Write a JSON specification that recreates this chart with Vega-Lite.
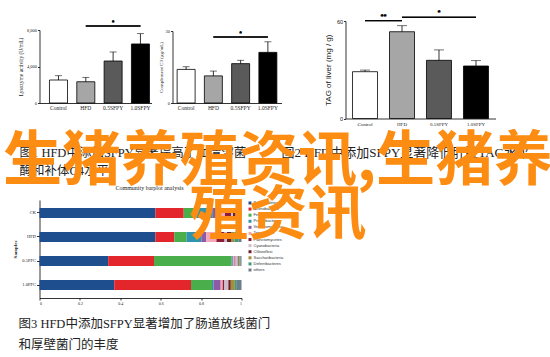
{
  "$schema": "https://vega.github.io/schema/vega-lite/v6.json",
  "padding": {"left": 2.5, "top": 9, "right": 0, "bottom": 0},
  "background": "white",
  "bounds": "flush",
  "align": "none",
  "columns": 5,
  "spacing": 0,
  "datasets": {
    "lys": [
      {"group": "Control", "value": 2520, "upper": 2990},
      {"group": "HFD", "value": 2330, "upper": 2810},
      {"group": "0.5SFPY", "value": 4600, "upper": 5590},
      {"group": "1.0SFPY", "value": 6470, "upper": 7600}
    ],
    "c3": [
      {"group": "Control", "value": 14.0, "upper": 15.1},
      {"group": "HFD", "value": 11.3, "upper": 13.3},
      {"group": "0.5SFPY", "value": 16.4, "upper": 17.8},
      {"group": "1.0SFPY", "value": 21.1, "upper": 25.5}
    ],
    "tag": [
      {"group": "Control", "value": 28.8, "upper": 29.8},
      {"group": "HFD", "value": 53.4, "upper": 57.1},
      {"group": "0.5SFPY", "value": 35.8, "upper": 42.2},
      {"group": "1.0SFPY", "value": 32.3, "upper": 35.6}
    ],
    "phyla": [
      {"phylum": "Bacteroidetes", "ord": 1},
      {"phylum": "Actinobacteria", "ord": 2},
      {"phylum": "Firmicutes", "ord": 3},
      {"phylum": "Proteobacteria", "ord": 4},
      {"phylum": "Verrucomicrobia", "ord": 5},
      {"phylum": "Tenericutes", "ord": 6},
      {"phylum": "Planctomycetes", "ord": 7},
      {"phylum": "Cyanobacteria", "ord": 8},
      {"phylum": "Chloroflexi", "ord": 9},
      {"phylum": "Saccharibacteria", "ord": 10},
      {"phylum": "Deferribacteres", "ord": 11},
      {"phylum": "others", "ord": 12}
    ],
    "comm": [
      {"sample": "CK", "phylum": "Bacteroidetes", "ord": 1, "value": 0.574},
      {"sample": "CK", "phylum": "Actinobacteria", "ord": 2, "value": 0.14},
      {"sample": "CK", "phylum": "Firmicutes", "ord": 3, "value": 0.064},
      {"sample": "CK", "phylum": "Proteobacteria", "ord": 4, "value": 0.08},
      {"sample": "CK", "phylum": "Verrucomicrobia", "ord": 5, "value": 0.02},
      {"sample": "CK", "phylum": "Tenericutes", "ord": 6, "value": 0.04},
      {"sample": "CK", "phylum": "Planctomycetes", "ord": 7, "value": 0.03},
      {"sample": "CK", "phylum": "Cyanobacteria", "ord": 8, "value": 0.01},
      {"sample": "CK", "phylum": "Chloroflexi", "ord": 9, "value": 0.01},
      {"sample": "CK", "phylum": "Saccharibacteria", "ord": 10, "value": 0.01},
      {"sample": "CK", "phylum": "Deferribacteres", "ord": 11, "value": 0.01},
      {"sample": "CK", "phylum": "others", "ord": 12, "value": 0.012},
      {"sample": "HFD", "phylum": "Bacteroidetes", "ord": 1, "value": 0.574},
      {"sample": "HFD", "phylum": "Actinobacteria", "ord": 2, "value": 0.093},
      {"sample": "HFD", "phylum": "Firmicutes", "ord": 3, "value": 0.06},
      {"sample": "HFD", "phylum": "Proteobacteria", "ord": 4, "value": 0.074},
      {"sample": "HFD", "phylum": "Verrucomicrobia", "ord": 5, "value": 0.025},
      {"sample": "HFD", "phylum": "Tenericutes", "ord": 6, "value": 0.05},
      {"sample": "HFD", "phylum": "Planctomycetes", "ord": 7, "value": 0.04},
      {"sample": "HFD", "phylum": "Cyanobacteria", "ord": 8, "value": 0.012},
      {"sample": "HFD", "phylum": "Chloroflexi", "ord": 9, "value": 0.02},
      {"sample": "HFD", "phylum": "Saccharibacteria", "ord": 10, "value": 0.018},
      {"sample": "HFD", "phylum": "Deferribacteres", "ord": 11, "value": 0.02},
      {"sample": "HFD", "phylum": "others", "ord": 12, "value": 0.014},
      {"sample": "0.5PFC", "phylum": "Bacteroidetes", "ord": 1, "value": 0.34},
      {"sample": "0.5PFC", "phylum": "Actinobacteria", "ord": 2, "value": 0.227},
      {"sample": "0.5PFC", "phylum": "Firmicutes", "ord": 3, "value": 0.384},
      {"sample": "0.5PFC", "phylum": "Proteobacteria", "ord": 4, "value": 0.005},
      {"sample": "0.5PFC", "phylum": "Verrucomicrobia", "ord": 5, "value": 0.004},
      {"sample": "0.5PFC", "phylum": "Tenericutes", "ord": 6, "value": 0.006},
      {"sample": "0.5PFC", "phylum": "Planctomycetes", "ord": 7, "value": 0.004},
      {"sample": "0.5PFC", "phylum": "Cyanobacteria", "ord": 8, "value": 0.012},
      {"sample": "0.5PFC", "phylum": "Chloroflexi", "ord": 9, "value": 0.004},
      {"sample": "0.5PFC", "phylum": "Saccharibacteria", "ord": 10, "value": 0.004},
      {"sample": "0.5PFC", "phylum": "Deferribacteres", "ord": 11, "value": 0.004},
      {"sample": "0.5PFC", "phylum": "others", "ord": 12, "value": 0.006},
      {"sample": "1.0PFC", "phylum": "Bacteroidetes", "ord": 1, "value": 0.37},
      {"sample": "1.0PFC", "phylum": "Actinobacteria", "ord": 2, "value": 0.38},
      {"sample": "1.0PFC", "phylum": "Firmicutes", "ord": 3, "value": 0.104},
      {"sample": "1.0PFC", "phylum": "Proteobacteria", "ord": 4, "value": 0.008},
      {"sample": "1.0PFC", "phylum": "Verrucomicrobia", "ord": 5, "value": 0.035},
      {"sample": "1.0PFC", "phylum": "Tenericutes", "ord": 6, "value": 0.01},
      {"sample": "1.0PFC", "phylum": "Planctomycetes", "ord": 7, "value": 0.008},
      {"sample": "1.0PFC", "phylum": "Cyanobacteria", "ord": 8, "value": 0.02},
      {"sample": "1.0PFC", "phylum": "Chloroflexi", "ord": 9, "value": 0.012},
      {"sample": "1.0PFC", "phylum": "Saccharibacteria", "ord": 10, "value": 0.02},
      {"sample": "1.0PFC", "phylum": "Deferribacteres", "ord": 11, "value": 0.01},
      {"sample": "1.0PFC", "phylum": "others", "ord": 12, "value": 0.023}
    ]
  },
  "config": {
    "view": {"stroke": null},
    "axis": {
      "grid": false, "domainColor": "#000", "tickColor": "#000", "labelColor": "#222", "titleColor": "#222",
      "labelFont": "Liberation Serif", "titleFont": "Liberation Serif", "titleFontWeight": "normal",
      "domainWidth": 0.8, "tickWidth": 0.8, "tickSize": 2, "labelPadding": 1, "titlePadding": 3
    }
  },
  "concat": [
    {
      "width": 112, "height": 82,
      "data": {"name": "lys"},
      "title": {"text": ["图1 HFD中添加SFPY显著提高了血清溶菌", "酶和补体C4水平"], "orient": "bottom", "anchor": "start", "frame": "group", "offset": 36, "dx": -20, "fontSize": 12.5, "font": "Liberation Serif, Noto Sans CJK SC", "fontWeight": "normal", "color": "#222", "lineHeight": 18.5},
      "encoding": {
        "x": {"field": "group", "type": "nominal", "sort": null, "scale": {"paddingInner": 0.34, "paddingOuter": 0.22, "align": 0.83}, "axis": {"title": null, "labelAngle": 0, "labelFontSize": 5.5, "ticks": false, "labelPadding": 2}}
      },
      "layer": [
        {"mark": {"type": "bar", "stroke": "#000", "strokeWidth": 0.8},
         "encoding": {
           "y": {"field": "value", "type": "quantitative", "scale": {"domain": [0, 8000], "range": [82, 9]}, "axis": {"title": "Lysozyme activity (U/mL)", "values": [0, 2000, 4000, 6000, 8000], "labelFontSize": 4.5, "titleFontSize": 5.5}},
           "fill": {"field": "group", "type": "nominal", "scale": {"domain": ["Control", "HFD", "0.5SFPY", "1.0SFPY"], "range": ["#ffffff", "#a6a6a6", "#5a5a5a", "#000000"]}, "legend": null}
         }},
        {"mark": {"type": "rule", "strokeWidth": 0.8, "color": "#000"},
         "encoding": {"y": {"field": "value", "type": "quantitative", "title": "Lysozyme activity (U/mL)"}, "y2": {"field": "upper"}}},
        {"mark": {"type": "tick", "size": 7, "thickness": 0.8, "color": "#000"},
         "encoding": {"y": {"field": "upper", "type": "quantitative", "title": "Lysozyme activity (U/mL)"}}},
        {"mark": {"type": "rule", "strokeWidth": 0.8, "color": "#000"},
         "encoding": {"x": {"datum": "HFD"}, "x2": {"datum": "1.0SFPY"}, "y": {"datum": 8440}}},
        {"mark": {"type": "text", "text": "*", "fontSize": 7, "baseline": "bottom", "color": "#000"},
         "encoding": {"x": {"datum": "0.5SFPY"}, "y": {"datum": 8440}}}
      ]
    },
    {"width": 21, "height": 1, "data": {"values": [{}]}, "mark": {"type": "point", "opacity": 0}, "encoding": {}},
    {
      "width": 109, "height": 82,
      "data": {"name": "c3"},
      "encoding": {
        "x": {"field": "group", "type": "nominal", "sort": null, "scale": {"paddingInner": 0.34, "paddingOuter": 0.17}, "axis": {"title": null, "labelAngle": 0, "labelFontSize": 5.5, "ticks": false, "labelPadding": 2}}
      },
      "layer": [
        {"mark": {"type": "bar", "stroke": "#000", "strokeWidth": 0.8},
         "encoding": {
           "y": {"field": "value", "type": "quantitative", "scale": {"domain": [0, 30], "range": [82, 10]}, "axis": {"title": "Complement C3 (μg/mL)", "values": [0, 10, 20, 30], "labelFontSize": 4.5, "titleFontSize": 5, "titlePadding": 2}},
           "fill": {"field": "group", "type": "nominal", "scale": {"domain": ["Control", "HFD", "0.5SFPY", "1.0SFPY"], "range": ["#ffffff", "#a6a6a6", "#5a5a5a", "#000000"]}, "legend": null}
         }},
        {"mark": {"type": "rule", "strokeWidth": 0.8, "color": "#000"},
         "encoding": {"y": {"field": "value", "type": "quantitative", "title": "Complement C3 (μg/mL)"}, "y2": {"field": "upper"}}},
        {"mark": {"type": "tick", "size": 7, "thickness": 0.8, "color": "#000"},
         "encoding": {"y": {"field": "upper", "type": "quantitative", "title": "Complement C3 (μg/mL)"}}},
        {"mark": {"type": "rule", "strokeWidth": 0.8, "color": "#000"},
         "encoding": {"x": {"datum": "HFD"}, "x2": {"datum": "1.0SFPY"}, "y": {"datum": 27.5}}},
        {"mark": {"type": "text", "text": "*", "fontSize": 7, "baseline": "bottom", "color": "#000"},
         "encoding": {"x": {"datum": "0.5SFPY"}, "y": {"datum": 27.5}}}
      ]
    },
    {"width": 64, "height": 1, "data": {"values": [{}]}, "mark": {"type": "point", "opacity": 0}, "encoding": {}},
    {
      "width": 150, "height": 97.5,
      "data": {"name": "tag"},
      "title": {"text": "图2 HFD中添加SFPY显著降低肝脏TAG水平", "orient": "bottom", "anchor": "start", "frame": "group", "offset": 20.5, "dx": -64, "fontSize": 13, "font": "Liberation Serif, Noto Sans CJK SC", "fontWeight": "normal", "color": "#222"},
      "encoding": {
        "x": {"field": "group", "type": "nominal", "sort": null, "scale": {"paddingInner": 0.324, "paddingOuter": 0.19}, "axis": {"title": null, "labelAngle": 0, "labelFontSize": 5, "ticks": false, "labelPadding": 3}}
      },
      "layer": [
        {"mark": {"type": "bar", "stroke": "#000", "strokeWidth": 0.8},
         "encoding": {
           "y": {"field": "value", "type": "quantitative", "scale": {"domain": [0, 60]}, "axis": {"title": "TAG of liver (mg / g)", "values": [0, 20, 40, 60], "labelFontSize": 5.5, "labelFont": "Liberation Sans", "titleFont": "Liberation Sans", "titleFontSize": 8, "titlePadding": 4}},
           "fill": {"field": "group", "type": "nominal", "scale": {"domain": ["Control", "HFD", "0.5SFPY", "1.0SFPY"], "range": ["#ffffff", "#a6a6a6", "#5a5a5a", "#000000"]}, "legend": null}
         }},
        {"mark": {"type": "rule", "strokeWidth": 0.8, "color": "#000"},
         "encoding": {"y": {"field": "value", "type": "quantitative", "title": "TAG of liver (mg / g)"}, "y2": {"field": "upper"}}},
        {"mark": {"type": "tick", "size": 10, "thickness": 0.8, "color": "#000"},
         "encoding": {"y": {"field": "upper", "type": "quantitative", "title": "TAG of liver (mg / g)"}}},
        {"mark": {"type": "rule", "strokeWidth": 0.8, "color": "#000"},
         "encoding": {"x": {"datum": "Control"}, "x2": {"datum": "HFD"}, "y": {"datum": 60.2}}},
        {"mark": {"type": "rule", "strokeWidth": 0.8, "color": "#000"},
         "encoding": {"x": {"datum": "HFD"}, "x2": {"datum": "1.0SFPY"}, "y": {"datum": 62.3}}},
        {"mark": {"type": "text", "text": "**", "fontSize": 8, "baseline": "bottom", "dx": -18.5, "color": "#000"},
         "encoding": {"x": {"datum": "HFD"}, "y": {"datum": 60.2}}},
        {"mark": {"type": "text", "text": "*", "fontSize": 8, "baseline": "bottom", "color": "#000"},
         "encoding": {"x": {"datum": "0.5SFPY"}, "y": {"datum": 62.3}}}
      ]
    },
    {"width": 1, "height": 81, "data": {"values": [{}]}, "mark": {"type": "point", "opacity": 0}, "encoding": {}},
    {"width": 1, "height": 1, "data": {"values": [{}]}, "mark": {"type": "point", "opacity": 0}, "encoding": {}},
    {"width": 1, "height": 1, "data": {"values": [{}]}, "mark": {"type": "point", "opacity": 0}, "encoding": {}},
    {"width": 1, "height": 1, "data": {"values": [{}]}, "mark": {"type": "point", "opacity": 0}, "encoding": {}},
    {"width": 1, "height": 1, "data": {"values": [{}]}, "mark": {"type": "point", "opacity": 0}, "encoding": {}},
    {
      "width": 112, "height": 98,
      "title": {"text": ["图3 HFD中添加SFPY显著增加了肠道放线菌门", "和厚壁菌门的丰度"], "orient": "bottom", "anchor": "start", "frame": "group", "offset": 13, "dx": -21, "fontSize": 12.5, "font": "Liberation Serif, Noto Sans CJK SC", "fontWeight": "normal", "color": "#222", "lineHeight": 21},
      "resolve": {"scale": {"y": "independent"}},
      "layer": [
        {"data": {"name": "comm"},
         "mark": {"type": "bar"},
         "encoding": {
           "y": {"field": "sample", "type": "nominal", "sort": ["CK", "HFD", "0.5PFC", "1.0PFC"], "scale": {"paddingInner": 0.583, "paddingOuter": 0.333}, "axis": {"title": "Samples", "labelFontSize": 4.5, "titleFontSize": 5, "titleFontWeight": "bold", "tickSize": 3, "titlePadding": 4}},
           "x": {"field": "value", "type": "quantitative", "stack": "zero", "scale": {"domain": [0, 1], "range": [0, 202]}, "axis": {"title": null, "values": [0, 0.2, 0.4, 0.6, 0.8, 1], "labelFontSize": 4, "format": "~g", "tickSize": 2}},
           "color": {"field": "phylum", "type": "nominal", "scale": {"domain": ["Bacteroidetes", "Actinobacteria", "Firmicutes", "Proteobacteria", "Verrucomicrobia", "Tenericutes", "Planctomycetes", "Cyanobacteria", "Chloroflexi", "Saccharibacteria", "Deferribacteres", "others"], "range": ["#1f4e8f", "#e3262b", "#4aae4a", "#2f95ad", "#8d5ba6", "#f4a7b6", "#8c1c38", "#cdbccb", "#6f1f2b", "#a38e3e", "#3c9c7b", "#6e7d8e"]}, "legend": null},
           "order": {"field": "ord", "type": "quantitative"}
         }},
        {"data": {"name": "phyla"},
         "mark": {"type": "square", "size": 9, "opacity": 1},
         "encoding": {
           "y": {"field": "phylum", "type": "nominal", "sort": {"field": "ord"}, "scale": {"type": "point", "padding": 0, "range": [3, 70]}, "axis": null},
           "x": {"value": 210.5},
           "color": {"field": "phylum", "type": "nominal", "legend": null}
         }},
        {"data": {"name": "phyla"},
         "mark": {"type": "text", "align": "left", "baseline": "middle", "fontSize": 4, "color": "#333", "font": "Liberation Sans"},
         "encoding": {
           "y": {"field": "phylum", "type": "nominal", "sort": {"field": "ord"}, "scale": {"type": "point", "padding": 0, "range": [3, 70]}, "axis": null},
           "x": {"value": 214},
           "text": {"field": "phylum"}
         }},
        {"data": {"values": [{"label": "Community barplot analysis"}]},
         "mark": {"type": "text", "align": "center", "baseline": "middle", "fontSize": 6, "font": "Liberation Serif", "color": "#222"},
         "encoding": {"x": {"value": 110}, "y": {"value": -12}, "text": {"field": "label"}}},
        {"data": {"values": [{"label": "生猪养殖资讯,生猪养\n殖资讯"}]},
         "mark": {"type": "text", "align": "center", "baseline": "middle", "fontSize": 59, "fontWeight": "bold", "font": "Noto Sans CJK SC", "color": "#fd8c12", "lineBreak": "\n", "lineHeight": 54},
         "encoding": {"x": {"value": 238.5}, "y": {"value": -38}, "text": {"field": "label"}}}
      ]
    }
  ]
}
